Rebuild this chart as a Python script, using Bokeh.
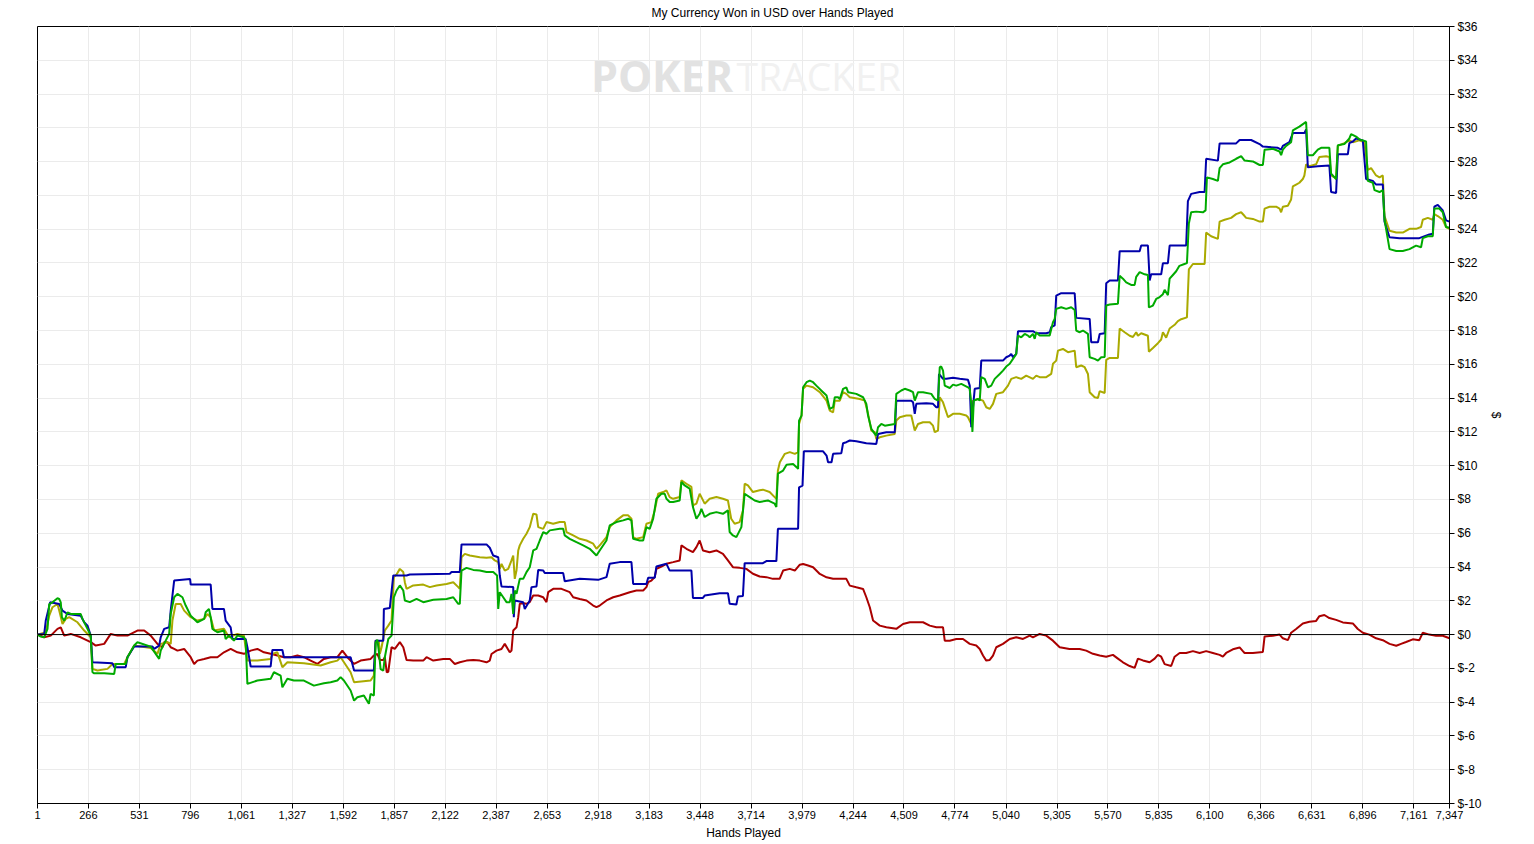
from bokeh.plotting import figure
from bokeh.models import Range1d, FixedTicker, Span, Label, NumeralTickFormatter, PrintfTickFormatter
from bokeh.embed import file_html
from bokeh.resources import INLINE

TITLE = "My Currency Won in USD over Hands Played"
X_LABEL = "Hands Played"
Y_LABEL = "$"
WATERMARK_A = "POKER"
WATERMARK_B = "TRACKER"

x_ticks = [1, 266, 531, 796, 1061, 1327, 1592, 1857, 2122, 2387, 2653, 2918, 3183, 3448,
           3714, 3979, 4244, 4509, 4774, 5040, 5305, 5570, 5835, 6100, 6366, 6631, 6896,
           7161, 7347]
y_ticks = [-10, -8, -6, -4, -2, 0, 2, 4, 6, 8, 10, 12, 14, 16, 18, 20, 22, 24, 26, 28,
           30, 32, 34, 36]

# series: (hand number, dollars won)
blue_series = [
    (1, 0.0), (36, 0.04), (44, 0.83), (67, 1.91), (114, 1.81), (131, 1.42), (157, 1.22),
    (226, 1.12), (244, 0.73), (261, 0.53), (278, -0.06), (287, -1.64), (391, -1.70),
    (400, -1.93), (460, -1.93), (469, -1.34), (504, -0.71), (599, -0.71), (608, -0.85),
    (634, -0.65), (642, -0.16), (660, 0.34), (686, 0.43), (694, 1.42), (712, 3.20),
    (795, 3.29), (798, 2.96), (902, 2.96), (911, 1.52), (971, 1.52), (980, 0.83),
    (1006, 0.43), (1015, -0.26), (1084, -0.26), (1093, -0.75), (1110, -1.89), (1214, -1.89),
    (1223, -0.91), (1275, -0.91), (1283, -1.34), (1630, -1.34), (1648, -2.13), (1751, -2.13),
    (1760, -0.36), (1800, -0.36), (1803, 1.52), (1834, 1.58), (1852, 3.50), (1921, 3.50),
    (1938, 3.56), (2146, 3.60), (2155, 3.70), (2198, 3.70), (2207, 5.34), (2337, 5.34),
    (2354, 5.14), (2372, 4.68), (2398, 4.58), (2406, 3.50), (2415, 2.85), (2476, 2.81),
    (2479, 1.03), (2484, 2.02), (2528, 1.92), (2536, 1.52), (2562, 2.02), (2571, 2.81),
    (2597, 2.85), (2606, 3.83), (2632, 3.79), (2640, 3.64), (2736, 3.64), (2744, 3.16),
    (2822, 3.30), (2918, 3.24), (2961, 3.40), (2978, 4.19), (3030, 4.29), (3091, 4.29),
    (3100, 3.00), (3169, 3.00), (3178, 3.36), (3212, 3.36), (3221, 4.03), (3273, 4.19),
    (3290, 3.79), (3403, 3.79), (3411, 2.17), (3463, 2.17), (3472, 2.31), (3550, 2.45),
    (3593, 2.45), (3602, 1.82), (3637, 1.78), (3645, 2.25), (3671, 2.29), (3680, 4.23),
    (3775, 4.23), (3793, 4.35), (3845, 4.35), (3853, 6.26), (3958, 6.26), (3963, 8.72),
    (3981, 8.82), (3988, 10.85), (4088, 10.85), (4106, 10.60), (4114, 10.20), (4132, 10.20),
    (4140, 10.70), (4183, 10.74), (4192, 11.33), (4209, 11.39), (4227, 11.49), (4261, 11.45),
    (4313, 11.33), (4365, 11.29), (4374, 11.88), (4417, 11.98), (4461, 11.98), (4469, 13.85),
    (4547, 13.85), (4556, 13.76), (4565, 13.07), (4573, 13.66), (4625, 13.70), (4660, 13.66),
    (4677, 13.46), (4686, 13.46), (4691, 15.43), (4712, 15.14), (4729, 15.14), (4764, 15.20),
    (4799, 15.14), (4842, 15.08), (4851, 14.74), (4859, 12.28), (4868, 13.46), (4877, 14.55),
    (4903, 14.60), (4911, 16.22), (5024, 16.22), (5041, 16.42), (5059, 16.52), (5067, 16.62),
    (5076, 16.42), (5093, 16.62), (5102, 17.96), (5180, 17.96), (5197, 17.84), (5249, 17.84),
    (5267, 17.90), (5275, 18.20), (5293, 18.30), (5301, 20.07), (5327, 20.21), (5397, 20.21),
    (5405, 18.75), (5475, 18.69), (5483, 17.31), (5518, 17.31), (5527, 17.80), (5553, 17.84),
    (5561, 20.80), (5579, 20.96), (5622, 20.96), (5631, 22.70), (5735, 22.70), (5743, 23.03),
    (5778, 23.03), (5787, 20.96), (5795, 21.33), (5847, 21.33), (5856, 21.99), (5882, 21.99),
    (5891, 23.03), (5977, 23.03), (5986, 25.66), (6003, 26.09), (6047, 26.20), (6073, 26.20),
    (6081, 28.17), (6142, 28.06), (6151, 29.08), (6237, 29.08), (6255, 29.28), (6315, 29.28),
    (6359, 29.04), (6376, 28.89), (6454, 28.82), (6471, 28.71), (6480, 28.93), (6514, 29.15),
    (6532, 29.69), (6592, 29.69), (6601, 29.91), (6610, 27.66), (6662, 27.73), (6722, 27.77),
    (6731, 26.20), (6757, 26.14), (6766, 28.43), (6818, 28.43), (6826, 29.10), (6844, 29.19),
    (6861, 29.37), (6896, 29.26), (6913, 26.97), (6948, 26.86), (6965, 26.64), (7000, 26.64),
    (7009, 24.45), (7035, 23.52), (7087, 23.47), (7190, 23.47), (7242, 23.69), (7260, 23.73),
    (7268, 25.33), (7286, 25.44), (7312, 25.11), (7329, 24.52), (7347, 24.45),
]

green_series = [
    (1, 0.00), (18, -0.12), (36, -0.16), (53, 0.34), (62, 1.81), (79, 1.91), (105, 2.15),
    (114, 2.11), (122, 1.91), (128, 1.03), (140, 0.83), (148, 1.03), (157, 1.32), (174, 1.22),
    (226, 1.22), (235, 0.93), (261, 0.34), (278, -0.06), (287, -2.23), (296, -2.29),
    (348, -2.29), (400, -2.33), (408, -1.74), (460, -1.74), (469, -1.34), (504, -0.65),
    (521, -0.45), (590, -0.71), (616, -1.14), (634, -1.44), (642, -0.95), (668, -0.36),
    (686, 0.04), (694, 1.22), (712, 2.21), (729, 2.41), (755, 2.21), (772, 1.72), (798, 1.12),
    (833, 0.73), (868, 0.93), (876, 1.32), (893, 1.52), (902, 1.03), (911, 0.34), (937, 0.14),
    (971, 0.24), (980, -0.26), (997, -0.06), (1023, -0.36), (1041, -0.06), (1075, -0.16),
    (1084, -0.36), (1093, -2.92), (1145, -2.72), (1214, -2.62), (1231, -2.23), (1266, -2.43),
    (1275, -3.12), (1301, -2.62), (1335, -2.72), (1387, -2.72), (1439, -3.02), (1491, -2.88),
    (1526, -2.82), (1561, -2.72), (1578, -2.52), (1595, -2.72), (1630, -3.31), (1648, -3.91),
    (1665, -3.71), (1699, -3.61), (1725, -4.10), (1734, -3.51), (1751, -3.61), (1760, -0.50),
    (1769, -0.30), (1777, -1.00), (1786, -2.04), (1800, -2.13), (1808, -1.34), (1826, -0.26),
    (1843, -0.06), (1855, 2.21), (1869, 2.61), (1886, 2.91), (1904, 2.61), (1912, 2.02),
    (1938, 1.92), (1973, 2.11), (2008, 1.92), (2060, 2.06), (2129, 2.11), (2164, 2.21),
    (2190, 1.82), (2198, 1.82), (2207, 3.79), (2233, 3.95), (2268, 3.83), (2302, 3.79),
    (2337, 3.70), (2372, 3.70), (2392, 3.50), (2398, 1.52), (2406, 2.51), (2424, 2.21),
    (2441, 1.92), (2458, 1.92), (2467, 2.41), (2476, 1.23), (2484, 2.61), (2493, 2.41),
    (2510, 3.30), (2528, 3.30), (2545, 3.70), (2562, 3.99), (2580, 4.98), (2597, 5.08),
    (2614, 5.57), (2632, 6.07), (2649, 5.97), (2666, 6.17), (2718, 6.26), (2736, 6.26),
    (2744, 5.87), (2770, 5.67), (2805, 5.47), (2840, 5.28), (2874, 5.08), (2909, 4.68),
    (2926, 4.98), (2961, 5.57), (2978, 6.46), (3013, 6.66), (3048, 6.76), (3074, 6.86),
    (3091, 6.76), (3100, 5.67), (3134, 5.57), (3152, 5.57), (3169, 6.36), (3186, 6.26),
    (3204, 6.86), (3221, 8.04), (3247, 8.34), (3264, 8.34), (3273, 8.04), (3290, 7.85),
    (3308, 7.85), (3342, 7.94), (3351, 9.03), (3368, 8.83), (3394, 8.64), (3411, 7.55),
    (3429, 6.86), (3446, 7.15), (3455, 7.45), (3472, 6.96), (3498, 7.15), (3533, 7.25),
    (3567, 7.15), (3593, 7.35), (3602, 6.07), (3619, 5.87), (3637, 5.77), (3663, 6.36),
    (3680, 8.34), (3706, 8.14), (3732, 7.94), (3758, 7.85), (3801, 7.94), (3836, 7.75),
    (3845, 7.55), (3853, 9.53), (3880, 9.71), (3898, 10.06), (3932, 10.10), (3950, 9.91),
    (3958, 9.81), (3963, 12.67), (3976, 12.97), (3984, 14.64), (4002, 14.94), (4019, 15.04),
    (4036, 14.94), (4053, 14.74), (4088, 14.35), (4106, 14.15), (4123, 13.36), (4140, 13.46),
    (4149, 14.05), (4166, 14.05), (4175, 13.95), (4192, 14.55), (4209, 14.64), (4218, 14.35),
    (4261, 14.25), (4296, 14.05), (4313, 13.66), (4322, 12.97), (4339, 12.18), (4357, 11.88),
    (4365, 11.78), (4374, 12.28), (4391, 12.47), (4409, 12.37), (4461, 12.47), (4469, 14.25),
    (4495, 14.45), (4513, 14.55), (4539, 14.45), (4556, 14.35), (4565, 13.85), (4582, 14.35),
    (4608, 14.35), (4651, 14.25), (4669, 13.95), (4686, 13.85), (4695, 15.83), (4703, 15.87),
    (4712, 15.63), (4721, 14.74), (4747, 14.60), (4764, 14.80), (4781, 14.74), (4807, 14.84),
    (4842, 14.64), (4851, 14.55), (4859, 13.66), (4865, 12.00), (4872, 13.85), (4894, 13.95),
    (4903, 13.85), (4911, 15.24), (4929, 15.14), (4946, 14.64), (4963, 14.74), (4981, 15.14),
    (5007, 15.43), (5024, 15.63), (5041, 15.87), (5059, 16.03), (5076, 16.32), (5093, 16.62),
    (5102, 17.70), (5119, 17.60), (5137, 17.80), (5154, 17.70), (5163, 17.60), (5180, 17.80),
    (5189, 17.51), (5197, 17.90), (5215, 17.70), (5267, 17.70), (5284, 18.49), (5293, 18.69),
    (5301, 19.28), (5327, 19.38), (5353, 19.28), (5379, 19.38), (5397, 19.22), (5405, 18.00),
    (5423, 17.90), (5440, 18.00), (5466, 17.80), (5475, 16.42), (5501, 16.32), (5518, 16.22),
    (5535, 16.42), (5553, 16.44), (5561, 19.48), (5579, 19.54), (5622, 19.59), (5631, 21.24),
    (5648, 21.07), (5665, 20.85), (5691, 20.70), (5709, 20.70), (5717, 21.18), (5735, 21.46),
    (5761, 21.33), (5778, 21.29), (5783, 19.37), (5804, 19.48), (5821, 19.87), (5839, 19.98),
    (5856, 20.15), (5865, 20.41), (5882, 20.09), (5891, 21.07), (5908, 21.29), (5925, 21.51),
    (5942, 21.83), (5968, 21.94), (5981, 21.99), (5991, 24.34), (6003, 25.00), (6029, 25.04),
    (6064, 25.00), (6078, 25.11), (6085, 27.07), (6116, 26.97), (6142, 26.86), (6151, 27.62),
    (6168, 27.84), (6203, 27.95), (6237, 28.17), (6263, 28.32), (6281, 28.06), (6324, 28.01),
    (6359, 27.80), (6376, 27.80), (6385, 28.71), (6428, 28.76), (6463, 28.60), (6471, 28.38),
    (6480, 28.71), (6497, 28.93), (6523, 29.15), (6532, 29.85), (6566, 30.07), (6601, 30.35),
    (6610, 28.38), (6636, 28.38), (6662, 28.71), (6679, 28.82), (6722, 28.82), (6731, 27.29),
    (6757, 26.97), (6766, 28.97), (6800, 29.04), (6826, 29.37), (6835, 29.63), (6861, 29.48),
    (6878, 29.32), (6913, 29.19), (6922, 26.86), (6948, 26.75), (6957, 26.31), (6983, 26.20),
    (7000, 26.31), (7009, 24.56), (7035, 22.82), (7070, 22.71), (7104, 22.71), (7139, 22.82),
    (7173, 23.03), (7199, 22.93), (7208, 23.47), (7234, 23.58), (7260, 23.58), (7268, 25.22),
    (7294, 25.22), (7312, 25.00), (7329, 24.13), (7347, 24.08),
]

olive_series = [
    (1, 0.00), (44, 0.14), (62, 1.12), (79, 1.62), (105, 1.81), (114, 1.42), (131, 0.63),
    (148, 0.93), (166, 1.03), (209, 0.73), (244, 0.24), (278, -0.16), (287, -2.03),
    (313, -2.13), (365, -2.03), (391, -1.74), (452, -1.74), (469, -1.34), (504, -0.65),
    (590, -0.79), (625, -1.14), (642, -0.55), (677, -0.45), (694, -0.55), (703, 0.83),
    (720, 1.81), (746, 1.81), (764, 1.42), (798, 1.03), (833, 0.83), (868, 0.93), (885, 1.22),
    (902, 1.03), (920, 0.24), (971, 0.34), (997, -0.16), (1041, 0.04), (1075, -0.06),
    (1093, -1.54), (1145, -1.54), (1214, -1.44), (1223, -1.14), (1249, -1.05), (1275, -1.93),
    (1301, -1.64), (1387, -1.70), (1474, -1.83), (1526, -1.64), (1561, -1.54), (1578, -1.34),
    (1630, -2.23), (1648, -2.82), (1734, -2.72), (1751, -2.43), (1760, -0.36), (1777, -0.40),
    (1782, -1.15), (1791, -0.75), (1808, 0.24), (1826, 0.53), (1843, 0.83), (1855, 3.40),
    (1869, 3.56), (1886, 3.89), (1904, 3.70), (1912, 3.10), (1921, 2.71), (1956, 2.91),
    (2008, 2.96), (2042, 2.81), (2077, 2.91), (2129, 3.00), (2164, 3.10), (2190, 2.81),
    (2198, 2.71), (2207, 4.58), (2224, 4.78), (2250, 4.68), (2302, 4.58), (2337, 4.55),
    (2363, 4.58), (2380, 4.39), (2398, 4.29), (2406, 3.89), (2415, 4.19), (2432, 3.79),
    (2450, 3.89), (2467, 4.39), (2476, 4.68), (2484, 3.30), (2493, 3.79), (2502, 4.98),
    (2510, 5.28), (2528, 5.67), (2545, 5.97), (2562, 6.36), (2580, 7.15), (2597, 7.11),
    (2606, 6.36), (2632, 6.26), (2649, 6.66), (2684, 6.56), (2718, 6.66), (2744, 6.66),
    (2753, 6.07), (2788, 5.87), (2822, 5.67), (2857, 5.57), (2892, 5.38), (2909, 5.08),
    (2926, 5.28), (2961, 5.77), (2978, 6.36), (3013, 6.76), (3048, 7.06), (3074, 7.06),
    (3091, 6.86), (3100, 5.77), (3117, 5.67), (3152, 5.77), (3169, 6.56), (3195, 6.66),
    (3212, 7.35), (3230, 8.34), (3256, 8.44), (3273, 8.54), (3290, 8.14), (3308, 8.04),
    (3342, 8.14), (3351, 9.13), (3377, 8.93), (3403, 8.74), (3411, 7.65), (3429, 7.75),
    (3446, 8.34), (3455, 8.14), (3472, 7.75), (3498, 8.04), (3533, 8.14), (3567, 8.04),
    (3593, 7.94), (3610, 6.86), (3628, 6.56), (3654, 6.66), (3671, 7.35), (3680, 8.93),
    (3697, 8.83), (3723, 8.44), (3758, 8.54), (3775, 8.58), (3810, 8.44), (3836, 8.14),
    (3845, 8.04), (3853, 9.72), (3863, 10.20), (3889, 10.70), (3915, 10.80), (3941, 10.70),
    (3958, 10.80), (3963, 12.47), (3976, 12.97), (3984, 14.55), (4002, 14.74), (4036, 14.64),
    (4071, 14.35), (4106, 13.85), (4123, 13.26), (4140, 13.16), (4149, 13.85), (4175, 13.85),
    (4192, 14.35), (4209, 14.25), (4227, 14.05), (4279, 13.95), (4305, 13.85), (4322, 13.07),
    (4339, 12.08), (4357, 11.98), (4365, 11.58), (4383, 11.68), (4417, 11.78), (4461, 11.88),
    (4469, 12.67), (4487, 12.87), (4521, 12.97), (4547, 12.97), (4565, 12.08), (4582, 12.47),
    (4608, 12.57), (4643, 12.57), (4660, 12.37), (4669, 11.98), (4686, 12.08), (4695, 14.05),
    (4712, 13.75), (4738, 12.87), (4764, 13.07), (4799, 13.07), (4833, 12.97), (4842, 12.87),
    (4859, 12.47), (4868, 13.85), (4894, 13.95), (4920, 13.85), (4937, 13.46), (4955, 13.36),
    (4972, 13.66), (4989, 14.25), (5024, 14.35), (5050, 14.74), (5067, 15.14), (5093, 15.24),
    (5119, 15.14), (5145, 15.33), (5180, 15.14), (5197, 15.33), (5215, 15.24), (5249, 15.24),
    (5275, 15.43), (5284, 16.03), (5301, 16.22), (5310, 16.81), (5336, 16.91), (5362, 16.72),
    (5397, 16.81), (5405, 15.83), (5431, 15.93), (5449, 15.83), (5466, 15.43), (5475, 14.35),
    (5501, 14.05), (5518, 14.01), (5527, 14.41), (5553, 14.30), (5561, 16.27), (5579, 16.38),
    (5622, 16.38), (5631, 18.12), (5657, 17.90), (5683, 17.69), (5700, 17.62), (5717, 17.90),
    (5726, 17.69), (5743, 17.84), (5778, 17.69), (5783, 16.75), (5804, 16.97), (5830, 17.25),
    (5847, 17.47), (5856, 17.90), (5873, 17.58), (5891, 18.12), (5917, 18.34), (5934, 18.56),
    (5951, 18.67), (5981, 18.78), (5991, 21.62), (6012, 21.94), (6073, 21.94), (6081, 23.80),
    (6107, 23.58), (6142, 23.43), (6151, 24.45), (6177, 24.56), (6211, 24.67), (6237, 24.89),
    (6263, 25.00), (6281, 24.78), (6289, 24.67), (6324, 24.61), (6359, 24.45), (6376, 24.45),
    (6385, 25.22), (6411, 25.33), (6445, 25.33), (6463, 25.22), (6471, 25.00), (6480, 25.33),
    (6506, 25.39), (6523, 25.76), (6532, 26.53), (6549, 26.64), (6566, 26.75), (6584, 26.97),
    (6592, 27.18), (6601, 27.84), (6618, 27.73), (6653, 27.84), (6670, 28.28), (6705, 28.32),
    (6722, 28.28), (6731, 27.18), (6748, 27.07), (6757, 26.97), (6766, 28.93), (6800, 29.10),
    (6826, 29.26), (6844, 29.15), (6878, 29.26), (6904, 29.15), (6922, 27.51), (6939, 27.62),
    (6965, 27.18), (6983, 27.07), (7000, 27.18), (7009, 24.78), (7035, 23.91), (7070, 23.80),
    (7104, 23.80), (7139, 24.02), (7173, 24.02), (7199, 24.13), (7208, 24.56), (7234, 24.67),
    (7260, 24.56), (7268, 24.89), (7286, 24.78), (7312, 24.56), (7329, 24.13), (7347, 24.02),
]

red_series = [
    (1, 0.00), (36, -0.16), (70, -0.06), (105, 0.34), (122, 0.43), (140, -0.06), (174, 0.04),
    (226, -0.16), (278, -0.45), (304, -0.65), (348, -0.55), (382, 0.04), (417, -0.06),
    (469, -0.06), (521, 0.24), (556, 0.24), (590, -0.06), (625, -0.55), (651, -0.75),
    (660, -0.45), (677, -0.45), (694, -0.75), (712, -0.85), (729, -0.95), (764, -0.85),
    (798, -1.34), (816, -1.74), (833, -1.54), (868, -1.44), (902, -1.34), (937, -1.34),
    (971, -1.05), (1006, -0.85), (1041, -1.05), (1075, -1.14), (1110, -0.95), (1145, -0.85),
    (1179, -1.05), (1214, -1.14), (1249, -1.24), (1283, -1.34), (1318, -1.34), (1353, -1.24),
    (1387, -1.34), (1422, -1.54), (1457, -1.74), (1491, -1.44), (1526, -1.34), (1561, -1.34),
    (1587, -0.95), (1613, -1.34), (1648, -1.74), (1682, -1.54), (1734, -1.44), (1751, -1.24),
    (1769, -1.14), (1782, -1.50), (1800, -1.50), (1808, -1.34), (1818, -2.23), (1826, -2.20),
    (1843, -0.75), (1860, -0.85), (1886, -0.45), (1904, -0.75), (1921, -1.50), (1956, -1.54),
    (2008, -1.54), (2025, -1.34), (2060, -1.54), (2112, -1.44), (2146, -1.44), (2172, -1.74),
    (2198, -1.64), (2233, -1.54), (2268, -1.50), (2302, -1.54), (2337, -1.64), (2354, -1.54),
    (2363, -1.15), (2389, -0.95), (2415, -0.85), (2432, -0.55), (2458, -1.05), (2467, -0.95),
    (2476, 0.24), (2493, 0.43), (2502, 1.03), (2510, 1.82), (2528, 1.86), (2545, 1.82),
    (2562, 1.92), (2580, 2.31), (2606, 2.31), (2632, 2.21), (2649, 1.92), (2658, 2.51),
    (2684, 2.71), (2727, 2.71), (2770, 2.51), (2788, 2.21), (2822, 2.11), (2857, 2.02),
    (2892, 1.72), (2909, 1.62), (2926, 1.72), (2961, 2.02), (2996, 2.21), (3030, 2.31),
    (3082, 2.51), (3117, 2.61), (3152, 2.61), (3169, 2.81), (3178, 3.10), (3195, 3.20),
    (3212, 3.40), (3221, 3.89), (3247, 4.03), (3273, 4.19), (3308, 4.29), (3342, 4.39),
    (3351, 5.28), (3377, 5.08), (3411, 4.88), (3429, 5.18), (3446, 5.57), (3463, 4.98),
    (3498, 4.88), (3533, 4.98), (3567, 4.78), (3593, 4.39), (3619, 3.99), (3654, 3.95),
    (3689, 3.89), (3723, 3.60), (3758, 3.44), (3793, 3.40), (3827, 3.30), (3862, 3.30),
    (3880, 3.79), (3915, 3.89), (3941, 3.79), (3967, 4.14), (3984, 4.18), (4010, 4.09),
    (4036, 3.99), (4071, 3.59), (4106, 3.39), (4140, 3.30), (4209, 3.30), (4227, 2.90),
    (4261, 2.80), (4296, 2.70), (4313, 2.21), (4331, 1.62), (4348, 0.83), (4383, 0.53),
    (4417, 0.43), (4469, 0.34), (4504, 0.63), (4539, 0.73), (4608, 0.73), (4643, 0.53),
    (4677, 0.43), (4712, 0.43), (4721, -0.36), (4747, -0.36), (4781, -0.26), (4816, -0.26),
    (4851, -0.55), (4885, -0.65), (4903, -0.85), (4920, -1.24), (4937, -1.54), (4955, -1.50),
    (4972, -1.24), (4989, -0.75), (5024, -0.55), (5059, -0.26), (5093, -0.16), (5128, -0.26),
    (5163, -0.06), (5180, -0.16), (5215, 0.04), (5249, -0.06), (5284, -0.36), (5319, -0.75),
    (5370, -0.85), (5423, -0.85), (5457, -0.95), (5492, -1.14), (5527, -1.24), (5561, -1.31),
    (5596, -1.20), (5622, -1.42), (5648, -1.64), (5683, -1.86), (5709, -1.97), (5726, -1.42),
    (5752, -1.53), (5787, -1.64), (5813, -1.42), (5830, -1.20), (5847, -1.31), (5865, -1.75),
    (5899, -1.86), (5917, -1.31), (5943, -1.09), (5977, -1.09), (6012, -0.98), (6047, -1.09),
    (6081, -0.98), (6116, -1.09), (6151, -1.20), (6168, -1.31), (6185, -1.09), (6220, -0.87),
    (6255, -0.76), (6272, -0.98), (6281, -1.09), (6324, -1.09), (6376, -1.03), (6385, -0.11),
    (6428, -0.07), (6463, 0.00), (6480, -0.22), (6506, -0.33), (6523, 0.11), (6549, 0.33),
    (6584, 0.66), (6618, 0.76), (6653, 0.81), (6670, 1.09), (6696, 1.16), (6722, 0.98),
    (6757, 0.87), (6792, 0.72), (6844, 0.66), (6870, 0.33), (6896, 0.11), (6930, 0.00),
    (6965, -0.22), (7000, -0.33), (7035, -0.55), (7070, -0.66), (7095, -0.55), (7121, -0.44),
    (7156, -0.28), (7190, -0.33), (7208, 0.11), (7242, 0.00), (7277, -0.07), (7312, -0.07),
    (7347, -0.22),
]

COLORS = {"red": "#AA0000", "olive": "#AAAA00", "blue": "#0000AA", "green": "#00AA00"}
FONT = "Liberation Sans"

p = figure(frame_width=1412, frame_height=777,
           x_range=Range1d(1, 7347), y_range=Range1d(-10, 36),
           y_axis_location="right", output_backend="svg", toolbar_location=None,
           min_border_left=37, min_border_top=26, min_border_right=83, min_border_bottom=20,
           title=TITLE, background_fill_color="white", border_fill_color="white")

p.title.align = "left"
p.title.offset = 614
p.title.standoff = 10
p.title.vertical_align = "top"
p.title.text_font = FONT
p.title.text_font_size = "12px"
p.title.text_font_style = "normal"
p.title.text_color = "black"

p.outline_line_color = "black"
p.outline_line_width = 1
p.outline_line_alpha = 1

# axes
xa = p.xaxis[0]
xa.ticker = FixedTicker(ticks=x_ticks)
xa.formatter = NumeralTickFormatter(format="0,0")
xa.axis_label = X_LABEL
ya = p.yaxis[0]
ya.ticker = FixedTicker(ticks=y_ticks)
ya.formatter = PrintfTickFormatter(format="$%d")
ya.axis_label = Y_LABEL
for ax, size in ((xa, "11px"), (ya, "12px")):
    ax.axis_line_color = "black"
    ax.major_tick_line_color = "black"
    ax.minor_tick_line_color = None
    ax.major_tick_in = 0
    ax.major_tick_out = 5
    ax.major_label_text_font = FONT
    ax.major_label_text_font_size = size
    ax.major_label_text_color = "black"
    ax.axis_label_text_font = FONT
    ax.axis_label_text_font_size = "12px"
    ax.axis_label_text_font_style = "normal"
    ax.axis_label_text_color = "black"
xa.major_label_standoff = 2
xa.axis_label_standoff = 4
ya.major_label_standoff = 3
ya.axis_label_standoff = 4

p.xgrid.ticker = FixedTicker(ticks=x_ticks)
p.ygrid.ticker = FixedTicker(ticks=y_ticks)
for g in (p.xgrid[0], p.ygrid[0]):
    g.grid_line_color = "#ebebeb"
    g.grid_line_width = 1

# watermark
p.add_layout(Label(x=2880, y=33.1, text=WATERMARK_A, text_font="Open Sans",
                   text_font_size="43px", text_font_style="bold", text_color="#e2e2e2",
                   text_baseline="middle", level="underlay"))
p.add_layout(Label(x=3638, y=33.1, text=WATERMARK_B, text_font="Open Sans",
                   text_font_size="39px", text_font_style="normal", text_color="#f1f1f1",
                   text_baseline="middle", level="underlay"))

p.add_layout(Span(location=0, dimension="width", line_color="black", line_width=1))

for series, key in ((red_series, "red"), (olive_series, "olive"),
                    (blue_series, "blue"), (green_series, "green")):
    hands = [h for h, _ in series]
    won = [w for _, w in series]
    p.line(hands, won, line_color=COLORS[key], line_width=2)

open("out.html", "w").write(file_html(p, INLINE))
